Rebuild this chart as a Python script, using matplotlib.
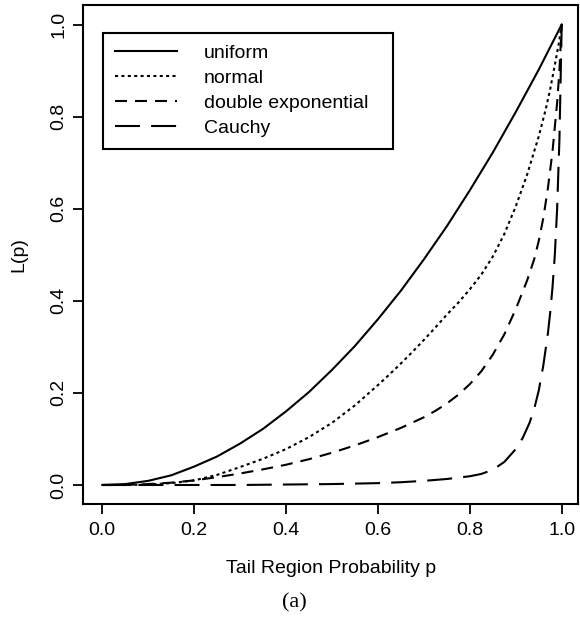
import matplotlib
matplotlib.use("Agg")
import matplotlib.pyplot as plt

plt.rcParams['font.family'] = ['Liberation Sans', 'DejaVu Sans']
plt.rcParams['lines.scale_dashes'] = False

# L(p) read along the tail region probability p
p_uniform = [0.0, 0.05, 0.1, 0.15, 0.2, 0.25, 0.3, 0.35, 0.4, 0.45, 0.5,
             0.55, 0.6, 0.65, 0.7, 0.75, 0.8, 0.85, 0.9, 0.95, 1.0]
L_uniform = [0.0, 0.002, 0.009, 0.021, 0.040, 0.062, 0.090, 0.122, 0.160, 0.202, 0.250,
             0.302, 0.360, 0.422, 0.490, 0.562, 0.640, 0.722, 0.810, 0.902, 1.0]

p_normal = [0.0, 0.05, 0.1, 0.15, 0.2, 0.25, 0.3, 0.35, 0.4, 0.45, 0.5, 0.55, 0.6,
            0.625, 0.65, 0.675, 0.7, 0.725, 0.75, 0.775, 0.8, 0.825, 0.85, 0.875,
            0.9, 0.925, 0.95, 0.965, 0.975, 0.985, 0.993, 1.0]
L_normal = [0.0, 0.0, 0.001, 0.004, 0.010, 0.022, 0.039, 0.057, 0.078, 0.104, 0.135, 0.173, 0.217,
            0.240, 0.264, 0.289, 0.315, 0.342, 0.370, 0.396, 0.425, 0.457, 0.496, 0.545,
            0.605, 0.675, 0.757, 0.815, 0.860, 0.912, 0.955, 1.0]

p_dexp = [0.0, 0.05, 0.1, 0.15, 0.2, 0.25, 0.3, 0.35, 0.4, 0.45, 0.5, 0.55, 0.6, 0.65,
          0.7, 0.725, 0.75, 0.775, 0.8, 0.825, 0.85, 0.875, 0.9, 0.925, 0.94, 0.95,
          0.96, 0.97, 0.98, 0.99, 0.995, 1.0]
L_dexp = [0.0, 0.0, 0.002, 0.005, 0.010, 0.017, 0.025, 0.034, 0.044, 0.056, 0.070, 0.086, 0.104, 0.124,
          0.147, 0.161, 0.177, 0.196, 0.219, 0.247, 0.283, 0.327, 0.382, 0.445, 0.490, 0.530,
          0.580, 0.645, 0.725, 0.830, 0.900, 1.0]

p_cauchy = [0.0, 0.3, 0.4, 0.5, 0.6, 0.65, 0.7, 0.75, 0.8, 0.825, 0.85, 0.875, 0.9,
            0.915, 0.93, 0.94, 0.95, 0.96, 0.97, 0.975, 0.98, 0.985, 0.99, 0.995, 1.0]
L_cauchy = [0.0, 0.0, 0.001, 0.002, 0.004, 0.006, 0.009, 0.013, 0.019, 0.024, 0.033, 0.050, 0.078,
            0.102, 0.135, 0.165, 0.205, 0.260, 0.330, 0.375, 0.430, 0.500, 0.600, 0.750, 1.0]

labels = ["uniform", "normal", "double exponential", "Cauchy"]
x_ticks = [0.0, 0.2, 0.4, 0.6, 0.8, 1.0]
y_ticks = [0.0, 0.2, 0.4, 0.6, 0.8, 1.0]

fig = plt.figure(figsize=(5.8, 6.21), dpi=100)
ax = fig.add_axes([0.1436, 0.1884, 0.853, 0.8035])

lw = 1.5
ax.plot(p_uniform, L_uniform, color='black', lw=lw, linestyle='-', label=labels[0])
ax.plot(p_normal, L_normal, color='black', lw=lw, linestyle=(0, (2.2, 2.4)), label=labels[1])
ax.plot(p_dexp, L_dexp, color='black', lw=lw, linestyle=(0, (8.6, 5.8)), label=labels[2])
ax.plot(p_cauchy, L_cauchy, color='black', lw=lw, linestyle=(0, (18, 8)), label=labels[3])

ax.set_xlim(-0.0414, 1.0355)
ax.set_ylim(-0.0413, 1.0423)
ax.set_xticks(x_ticks)
ax.set_yticks(y_ticks)
ax.set_xticklabels([f"{t:.1f}" for t in x_ticks])
ax.set_yticklabels([f"{t:.1f}" for t in y_ticks], rotation=90, va='center')
ax.tick_params(length=7.2, width=1.3, labelsize=14, direction='out', pad=6)
ax.tick_params(axis='y', pad=4)
for s in ax.spines.values():
    s.set_linewidth(1.5)

ax.set_xlabel("Tail Region Probability p", fontsize=14, labelpad=15)
ax.set_ylabel("L(p)", fontsize=14, labelpad=17)

# boxed legend, stretched to a fixed width
leg = ax.legend(loc='upper left', bbox_to_anchor=(0.0398, 0.944, 0.586, 0.0),
                mode='expand', fontsize=14,
                handlelength=3.2, handletextpad=1.4, labelspacing=0.38,
                borderpad=0.6, borderaxespad=0, fancybox=False, framealpha=1,
                edgecolor='black')
leg.get_frame().set_linewidth(1.5)

fig.text(0.508, 0.029, "(a)", fontsize=16, family='Liberation Serif',
         ha='center', va='center')

fig.savefig("out.png", dpi=100)
